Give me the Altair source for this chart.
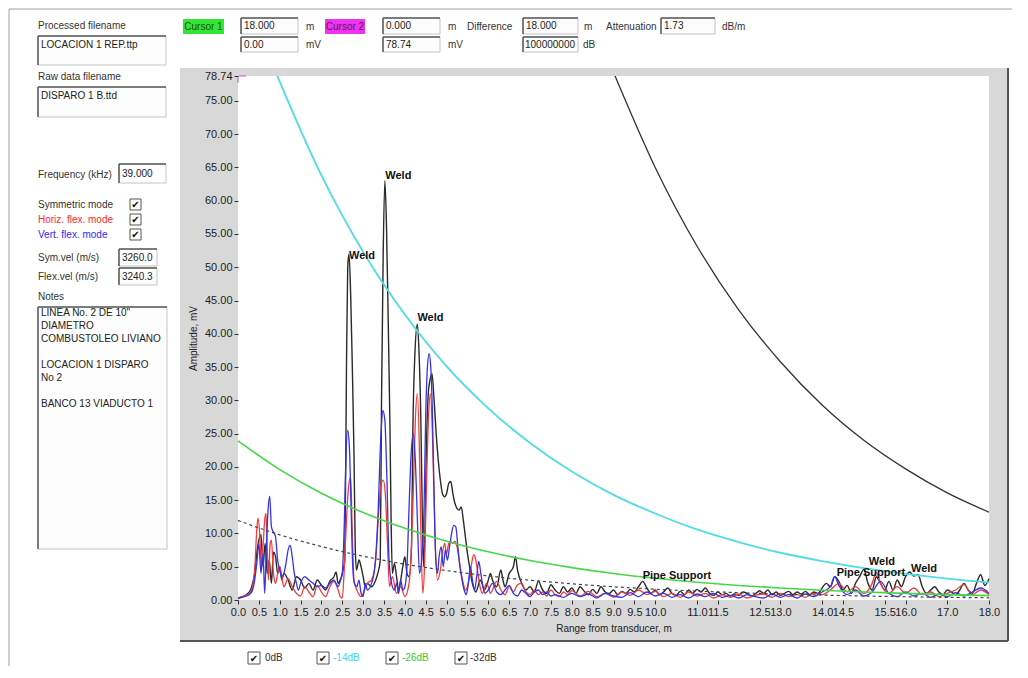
import altair as alt
import pandas as pd

# ---------------- chart values ----------------
# Symmetric mode trace (black), (range m, amplitude mV)
sym_pts = [
    (0.0, 0.3), (0.1, 0.5), (0.2, 0.8), (0.3, 1.5), (0.35, 2.5), (0.4, 4.0), (0.45, 7.0), (0.5, 9.0),
    (0.55, 9.8), (0.6, 5.0), (0.65, 8.5), (0.7, 4.0), (0.75, 6.0), (0.8, 2.5), (0.85, 7.2), (0.9, 6.5),
    (0.95, 4.0), (1.0, 5.0), (1.05, 3.0), (1.1, 4.0), (1.2, 3.0), (1.3, 1.5), (1.4, 3.5), (1.5, 3.0),
    (1.6, 1.8), (1.7, 2.5), (1.8, 1.5), (1.9, 3.0), (2.0, 2.2), (2.1, 1.5), (2.2, 2.8), (2.3, 3.5),
    (2.35, 4.2), (2.4, 2.5), (2.45, 3.0), (2.5, 4.0), (2.56, 6.0), (2.6, 35.0), (2.63, 50.0), (2.66, 52.0),
    (2.7, 46.0), (2.74, 35.0), (2.78, 22.0), (2.81, 8.0), (2.84, 4.5), (2.9, 6.0), (2.95, 5.0), (3.0, 3.5),
    (3.05, 2.0), (3.1, 2.5), (3.2, 2.0), (3.3, 3.0), (3.35, 4.0), (3.41, 6.0), (3.44, 30.0), (3.48, 52.0),
    (3.52, 63.0), (3.56, 56.0), (3.6, 42.0), (3.64, 27.0), (3.67, 12.0), (3.7, 4.0), (3.75, 5.5), (3.8, 3.5),
    (3.85, 1.5), (3.9, 3.0), (3.95, 5.0), (4.0, 6.5), (4.05, 4.0), (4.1, 3.5), (4.16, 8.0), (4.19, 25.0),
    (4.24, 37.0), (4.3, 41.5), (4.34, 37.0), (4.38, 28.0), (4.42, 12.0), (4.45, 5.0), (4.48, 10.0), (4.52, 24.0),
    (4.56, 31.0), (4.6, 33.0), (4.65, 34.0), (4.7, 30.0), (4.75, 25.0), (4.8, 21.0), (4.85, 18.0), (4.9, 16.0),
    (4.95, 15.5), (5.0, 16.0), (5.05, 17.5), (5.1, 17.8), (5.15, 16.0), (5.2, 14.5), (5.3, 13.5), (5.35, 14.0),
    (5.4, 12.0), (5.45, 9.5), (5.5, 7.0), (5.55, 5.0), (5.6, 3.0), (5.65, 1.8), (5.7, 1.2), (5.75, 2.0),
    (5.8, 3.0), (5.85, 2.5), (5.9, 1.5), (5.95, 2.0), (6.0, 3.0), (6.05, 4.0), (6.1, 3.0), (6.2, 2.0),
    (6.3, 4.5), (6.35, 3.0), (6.4, 2.0), (6.5, 4.0), (6.6, 5.0), (6.65, 6.5), (6.7, 4.5), (6.8, 2.5),
    (6.9, 1.5), (7.0, 2.0), (7.1, 1.2), (7.2, 2.8), (7.3, 1.5), (7.4, 1.0), (7.5, 2.3), (7.6, 1.5),
    (7.7, 1.0), (7.8, 2.0), (7.9, 1.2), (8.0, 1.8), (8.1, 1.0), (8.2, 2.0), (8.3, 1.3), (8.4, 0.8),
    (8.5, 1.6), (8.6, 1.0), (8.7, 2.0), (8.8, 1.2), (8.9, 1.0), (9.0, 1.5), (9.1, 0.8), (9.2, 1.3),
    (9.3, 1.0), (9.4, 1.6), (9.5, 1.2), (9.6, 2.0), (9.7, 2.8), (9.8, 1.8), (9.9, 1.0), (10.0, 1.5),
    (10.1, 0.8), (10.2, 1.2), (10.3, 1.8), (10.4, 1.0), (10.5, 0.7), (10.6, 1.3), (10.7, 0.8), (10.8, 1.5),
    (10.9, 1.0), (11.0, 1.6), (11.1, 1.2), (11.2, 1.8), (11.3, 1.0), (11.4, 0.7), (11.5, 1.2), (11.6, 0.8),
    (11.7, 1.0), (11.8, 0.6), (11.9, 0.9), (12.0, 0.7), (12.1, 1.2), (12.2, 1.0), (12.3, 0.6), (12.4, 0.9),
    (12.5, 1.4), (12.6, 1.0), (12.7, 1.5), (12.8, 0.8), (12.9, 1.2), (13.0, 0.7), (13.1, 1.0), (13.2, 1.3),
    (13.3, 0.8), (13.4, 1.2), (13.5, 0.9), (13.6, 1.3), (13.7, 0.8), (13.8, 1.2), (13.9, 1.0), (14.0, 1.8),
    (14.1, 2.5), (14.2, 2.0), (14.3, 3.5), (14.4, 2.8), (14.5, 1.5), (14.6, 2.2), (14.7, 1.0), (14.8, 2.5),
    (14.9, 3.5), (15.0, 4.6), (15.1, 2.5), (15.2, 1.5), (15.3, 3.5), (15.4, 2.5), (15.5, 1.5), (15.6, 2.8),
    (15.7, 1.5), (15.8, 3.0), (15.9, 2.0), (16.0, 3.5), (16.1, 4.2), (16.2, 3.6), (16.3, 3.8), (16.4, 2.0),
    (16.5, 1.0), (16.6, 1.5), (16.7, 2.0), (16.8, 1.2), (16.9, 0.8), (17.0, 1.5), (17.1, 1.2), (17.2, 0.8),
    (17.3, 1.5), (17.4, 2.5), (17.5, 1.5), (17.6, 1.0), (17.7, 2.5), (17.8, 3.8), (17.9, 2.2), (18.0, 3.2),
]

# Horizontal flexural mode trace (red)
horiz_pts = [
    (0.0, 0.3), (0.1, 0.5), (0.2, 0.7), (0.3, 1.2), (0.35, 2.0), (0.4, 4.5), (0.45, 10.5), (0.48, 12.3),
    (0.52, 10.0), (0.56, 5.0), (0.6, 8.0), (0.64, 12.0), (0.67, 13.0), (0.7, 8.0), (0.73, 3.0), (0.77, 8.5),
    (0.8, 9.0), (0.85, 4.0), (0.9, 2.5), (0.95, 4.0), (1.0, 5.0), (1.05, 3.5), (1.1, 2.0), (1.2, 3.2),
    (1.3, 2.0), (1.4, 1.0), (1.5, 0.6), (1.6, 2.0), (1.7, 1.2), (1.8, 0.5), (1.9, 2.2), (2.0, 1.2),
    (2.1, 0.5), (2.2, 2.0), (2.3, 2.8), (2.4, 1.5), (2.45, 0.5), (2.5, 0.3), (2.55, 5.0), (2.6, 12.0),
    (2.65, 17.0), (2.7, 18.5), (2.74, 10.0), (2.78, 3.0), (2.85, 1.5), (2.95, 0.5), (3.0, 1.0), (3.1, 2.5),
    (3.2, 3.0), (3.3, 6.0), (3.36, 12.0), (3.42, 17.0), (3.48, 18.0), (3.53, 16.0), (3.58, 9.0), (3.63, 2.0),
    (3.7, 3.5), (3.8, 1.0), (3.9, 2.0), (4.0, 0.5), (4.1, 2.5), (4.15, 7.0), (4.2, 16.0), (4.25, 27.0),
    (4.3, 31.0), (4.35, 22.0), (4.39, 8.0), (4.43, 1.0), (4.47, 5.0), (4.52, 18.0), (4.57, 28.0), (4.61, 31.0),
    (4.66, 25.0), (4.72, 10.0), (4.78, 3.0), (4.85, 4.5), (4.9, 7.0), (4.95, 8.5), (5.0, 7.0), (5.05, 8.5),
    (5.1, 8.8), (5.15, 8.5), (5.2, 8.8), (5.25, 8.0), (5.3, 6.0), (5.35, 4.0), (5.4, 2.5), (5.45, 1.5),
    (5.5, 2.0), (5.55, 3.5), (5.6, 5.5), (5.65, 6.8), (5.7, 6.0), (5.75, 4.0), (5.8, 2.0), (5.85, 1.0),
    (5.9, 1.5), (5.95, 2.5), (6.0, 2.0), (6.05, 1.0), (6.1, 1.5), (6.2, 2.8), (6.3, 1.5), (6.4, 0.8),
    (6.5, 2.0), (6.6, 1.2), (6.7, 2.3), (6.8, 2.5), (6.9, 1.2), (7.0, 0.8), (7.1, 1.5), (7.2, 0.8),
    (7.3, 1.2), (7.4, 0.6), (7.5, 1.5), (7.6, 0.8), (7.7, 0.5), (7.8, 1.2), (7.9, 0.8), (8.0, 1.4),
    (8.2, 0.6), (8.4, 1.3), (8.6, 0.5), (8.8, 1.0), (9.0, 0.4), (9.2, 1.2), (9.4, 0.7), (9.6, 1.5),
    (9.8, 0.8), (10.0, 1.3), (10.2, 0.5), (10.4, 1.0), (10.6, 0.4), (10.8, 1.2), (11.0, 0.6), (11.2, 1.0),
    (11.4, 0.3), (11.6, 0.8), (11.8, 0.4), (12.0, 0.9), (12.2, 0.3), (12.4, 0.7), (12.6, 0.9), (12.8, 0.4),
    (13.0, 1.0), (13.2, 0.5), (13.4, 0.8), (13.6, 0.4), (13.8, 1.0), (14.0, 0.8), (14.2, 1.5), (14.4, 2.5),
    (14.6, 1.2), (14.8, 2.0), (15.0, 1.0), (15.2, 2.5), (15.3, 4.2), (15.4, 2.5), (15.6, 1.0), (15.8, 2.0),
    (16.0, 1.0), (16.2, 1.8), (16.4, 0.8), (16.6, 1.2), (16.8, 0.5), (17.0, 1.0), (17.2, 1.5), (17.4, 2.3),
    (17.6, 0.8), (17.8, 1.5), (18.0, 0.8),
]

# Vertical flexural mode trace (blue)
vert_pts = [
    (0.0, 0.2), (0.1, 0.4), (0.2, 0.6), (0.3, 1.0), (0.35, 1.5), (0.4, 3.0), (0.45, 5.5), (0.5, 8.5),
    (0.55, 4.0), (0.6, 7.0), (0.64, 1.0), (0.68, 8.0), (0.72, 13.5), (0.76, 15.6), (0.8, 11.0), (0.85, 10.2),
    (0.9, 9.5), (0.95, 6.0), (1.0, 4.5), (1.05, 3.5), (1.1, 4.0), (1.15, 5.5), (1.2, 7.5), (1.25, 8.2),
    (1.3, 6.5), (1.35, 4.0), (1.4, 2.5), (1.45, 1.5), (1.5, 2.5), (1.6, 3.5), (1.7, 3.0), (1.8, 2.5),
    (1.9, 2.0), (2.0, 2.2), (2.1, 1.8), (2.2, 2.5), (2.3, 3.0), (2.35, 2.5), (2.4, 2.0), (2.45, 2.8),
    (2.5, 4.0), (2.55, 12.0), (2.59, 22.0), (2.63, 25.5), (2.67, 23.0), (2.71, 14.0), (2.75, 5.0), (2.79, 2.5),
    (2.85, 2.0), (2.9, 3.0), (2.95, 1.0), (3.0, 0.5), (3.05, 2.5), (3.1, 1.5), (3.2, 2.5), (3.28, 5.0),
    (3.35, 12.0), (3.42, 24.0), (3.47, 28.5), (3.52, 27.0), (3.57, 18.0), (3.62, 6.0), (3.68, 2.5), (3.75, 1.5),
    (3.8, 2.5), (3.85, 1.0), (3.9, 3.0), (3.95, 1.5), (4.0, 2.0), (4.05, 5.0), (4.1, 14.0), (4.15, 22.0),
    (4.2, 25.0), (4.25, 21.0), (4.3, 12.0), (4.35, 4.0), (4.4, 6.0), (4.46, 14.0), (4.5, 28.0), (4.54, 35.0),
    (4.58, 37.0), (4.62, 35.0), (4.66, 28.0), (4.7, 16.0), (4.74, 6.0), (4.78, 4.0), (4.82, 6.5), (4.87, 8.0),
    (4.92, 5.0), (4.97, 7.5), (5.02, 6.0), (5.07, 8.0), (5.12, 10.0), (5.17, 11.2), (5.22, 11.0), (5.27, 8.0),
    (5.32, 5.0), (5.37, 3.0), (5.42, 1.5), (5.47, 0.8), (5.52, 2.5), (5.57, 5.0), (5.62, 3.0), (5.67, 1.5),
    (5.72, 3.5), (5.77, 5.8), (5.82, 4.0), (5.87, 2.0), (5.92, 1.0), (6.0, 1.5), (6.1, 2.5), (6.2, 1.2),
    (6.3, 0.8), (6.4, 1.5), (6.5, 2.2), (6.6, 1.0), (6.7, 0.6), (6.8, 1.5), (6.9, 1.0), (7.0, 0.5),
    (7.1, 1.2), (7.2, 1.5), (7.3, 0.8), (7.4, 1.2), (7.5, 0.6), (7.6, 0.8), (7.8, 0.4), (8.0, 1.0),
    (8.2, 0.5), (8.4, 0.9), (8.6, 0.3), (8.8, 1.0), (9.0, 0.6), (9.2, 0.4), (9.4, 1.1), (9.6, 0.5),
    (9.8, 1.2), (10.0, 0.6), (10.2, 1.0), (10.4, 0.4), (10.6, 0.8), (10.8, 0.3), (11.0, 0.9), (11.2, 0.5),
    (11.4, 1.0), (11.6, 0.4), (11.8, 0.7), (12.0, 0.3), (12.2, 0.8), (12.4, 0.5), (12.6, 0.3), (12.8, 0.9),
    (13.0, 0.4), (13.2, 0.8), (13.4, 0.3), (13.6, 0.9), (13.8, 0.5), (14.0, 1.2), (14.2, 2.0), (14.3, 3.5),
    (14.4, 2.2), (14.6, 0.8), (14.8, 1.5), (15.0, 0.6), (15.2, 1.2), (15.4, 2.8), (15.6, 1.0), (15.8, 0.5),
    (16.0, 1.2), (16.2, 0.6), (16.4, 1.0), (16.6, 0.4), (16.8, 0.9), (17.0, 0.5), (17.2, 1.1), (17.4, 0.6),
    (17.6, 1.2), (17.8, 1.8), (18.0, 1.0),
]

# Distance-amplitude curves (1.73 dB/m), read at whole metres
dac_0db = [(9.0, 79.3), (10, 65.0), (11, 53.2), (12, 43.6), (13, 35.8), (14, 29.3), (15, 24.0),
           (16, 19.7), (17, 16.1), (18, 13.2)]
dac_14db = [(0.9, 79.4), (1, 77.9), (2, 63.8), (3, 52.3), (4, 42.9), (5, 35.1), (6, 28.8), (7, 23.6),
            (8, 19.3), (9, 15.8), (10, 13.0), (11, 10.6), (12, 8.7), (13, 7.1), (14, 5.85), (15, 4.8),
            (16, 3.93), (17, 3.22), (18, 2.64)]
dac_26db = [(0, 23.9), (1, 19.6), (2, 16.05), (3, 13.15), (4, 10.78), (5, 8.83), (6, 7.24), (7, 5.93),
            (8, 4.86), (9, 3.98), (10, 3.26), (11, 2.67), (12, 2.19), (13, 1.80), (14, 1.47), (15, 1.21),
            (16, 0.99), (17, 0.81), (18, 0.66)]
dac_32db = [(0, 11.95), (1, 9.79), (2, 8.03), (3, 6.58), (4, 5.39), (5, 4.42), (6, 3.62), (7, 2.97),
            (8, 2.43), (9, 1.99), (10, 1.63), (11, 1.34), (12, 1.10), (13, 0.90), (14, 0.74), (15, 0.60),
            (16, 0.49), (17, 0.40), (18, 0.33)]

# Feature labels
feature_text = ["Weld", "Weld", "Weld", "Pipe Support", "Pipe Support", "Weld", "Weld"]
feature_x = [2.66, 3.53, 4.30, 9.70, 14.35, 15.12, 16.13]
feature_y = [51.2, 63.3, 41.9, 3.2, 3.6, 5.3, 4.2]

# Cursor 2 position
cursor2_x = [0.0]
cursor2_y = [78.74]

x_tick_values = [0.0, 0.5, 1.0, 1.5, 2.0, 2.5, 3.0, 3.5, 4.0, 4.5, 5.0, 5.5, 6.0, 6.5, 7.0, 7.5, 8.0,
                 8.5, 9.0, 9.5, 10.0, 11.0, 11.5, 12.5, 13.0, 14.0, 14.5, 15.5, 16.0, 17.0, 18.0]
y_tick_values = [0, 5, 10, 15, 20, 25, 30, 35, 40, 45, 50, 55, 60, 65, 70, 75, 78.74]

# Panel texts
notes_lines = ['LINEA No. 2 DE 10"', "DIAMETRO", "COMBUSTOLEO LIVIANO", "LOCACION 1 DISPARO", "No 2",
               "BANCO 13 VIADUCTO 1"]

# ---------------- layout ----------------
OX, OY = 238, 76          # page position of the plot origin
W, H = 751, 524
FONT = "Liberation Sans"

def pts_df(pts):
    return pd.DataFrame(pts, columns=["x", "y"])

# rectangles in page pixels: x1, y1, x2, y2, fill, stroke
textboxes = [(38, 36, 166, 65), (38, 87, 166, 117), (241, 18, 298, 34), (241, 37, 298, 52),
             (383, 18, 440, 34), (383, 37, 440, 52), (523, 18, 578, 34), (523, 37, 578, 52),
             (661, 18, 715, 34), (119, 164, 166, 183), (119, 249, 157, 266), (119, 268, 157, 285),
             (38, 307, 167, 549)]
checkboxes = [(130, 199, 141, 210), (130, 214, 141, 225), (130, 229, 141, 240),
              (248, 652, 260, 664), (317, 652, 329, 664), (386, 652, 398, 664), (455, 652, 467, 664)]

rect_rows = [(180, 68, 1008, 641, "#d8d8d8", "transparent"),
             (OX, OY, OX + W, OY + H, "#ffffff", "transparent"),
             (183, 19, 224, 34, "#33e633", "transparent"),
             (325, 19, 365, 34, "#ee33ee", "transparent")]
rect_rows += [(a, b, c, d, "#fdfdfd", "#c4c4c4") for a, b, c, d in textboxes]
rect_rows += [(a, b, c, d, "#ffffff", "#555555") for a, b, c, d in checkboxes]
rect_df = pd.DataFrame(rect_rows, columns=["x1", "y1", "x2", "y2", "fill", "stroke"])

rule_rows = [(9, 9, 1012, 9, "#a0a0a0", 1), (9, 9, 9, 668, "#a0a0a0", 1),
             (180, 641, 1008, 641, "#555555", 2), (1008, 68, 1008, 641, "#555555", 2)]
for a, b, c, d in textboxes:
    rule_rows.append((a, b, c, b, "#5a5a5a", 1.5))
    rule_rows.append((a, b, a, d, "#5a5a5a", 1.5))
rule_df = pd.DataFrame(rule_rows, columns=["x1", "y1", "x2", "y2", "color", "w"])

text_rows = [
    (38, 26, "Processed filename", "#333333"), (41, 45, "LOCACION 1 REP.ttp", "#222222"),
    (38, 77, "Raw data filename", "#333333"), (41, 96, "DISPARO 1 B.ttd", "#222222"),
    (244, 26, "18.000", "#222222"), (306, 27, "m", "#333333"),
    (244, 45, "0.00", "#222222"), (306, 45, "mV", "#333333"),
    (386, 26, "0.000", "#222222"), (448, 27, "m", "#333333"),
    (386, 45, "78.74", "#222222"), (448, 45, "mV", "#333333"),
    (467, 27, "Difference", "#333333"), (526, 26, "18.000", "#222222"), (584, 27, "m", "#333333"),
    (525, 45, "100000000", "#222222"), (583, 45, "dB", "#333333"),
    (606, 27, "Attenuation", "#333333"), (664, 26, "1.73", "#222222"), (722, 27, "dB/m", "#333333"),
    (38, 175, "Frequency (kHz)", "#333333"), (122, 174, "39.000", "#222222"),
    (38, 205, "Symmetric mode", "#333333"), (38, 220, "Horiz. flex. mode", "#ff2a2a"),
    (38, 235, "Vert. flex. mode", "#2a2aff"),
    (38, 258, "Sym.vel (m/s)", "#333333"), (122, 258, "3260.0", "#222222"),
    (38, 277, "Flex.vel (m/s)", "#333333"), (122, 277, "3240.3", "#222222"),
    (38, 297, "Notes", "#333333"),
    (265, 658, "0dB", "#333333"), (333, 658, "-14dB", "#44d8e0"),
    (402, 658, "-26dB", "#33cc33"), (470, 658, "-32dB", "#333333"),
]
for yy, line in zip([313, 326, 339, 365, 378, 404], notes_lines):
    text_rows.append((41, yy, line, "#222222"))
text_df = pd.DataFrame(text_rows, columns=["x", "y", "text", "color"])

center_rows = [(203.5, 27, "Cursor 1", "#145214"), (345, 27, "Cursor 2", "#6a146a")]
center_df = pd.DataFrame(center_rows, columns=["x", "y", "text", "color"])
check_df = pd.DataFrame([((a + c) / 2, (b + d) / 2 + 0.5, "\u2714", "#111111") for a, b, c, d in checkboxes],
                        columns=["x", "y", "text", "color"])

for df in (rect_df, rule_df):
    df["x1"] -= OX; df["x2"] -= OX; df["y1"] -= OY; df["y2"] -= OY
for df in (text_df, center_df, check_df):
    df["x"] -= OX; df["y"] -= OY

# ---------------- layers ----------------
pxX = lambda f: alt.X(f, scale=None, axis=None)
pxY = lambda f: alt.Y(f, scale=None, axis=None)

rect_layer = alt.Chart(rect_df).mark_rect(strokeWidth=1).encode(
    x=pxX("x1:Q"), x2="x2:Q", y=pxY("y1:Q"), y2="y2:Q",
    fill=alt.Fill("fill:N", scale=None), stroke=alt.Stroke("stroke:N", scale=None))

rule_layer = alt.Chart(rule_df).mark_rule().encode(
    x=pxX("x1:Q"), x2="x2:Q", y=pxY("y1:Q"), y2="y2:Q",
    color=alt.Color("color:N", scale=None), strokeWidth=alt.StrokeWidth("w:Q", scale=None))

text_layer = alt.Chart(text_df).mark_text(align="left", baseline="middle", font=FONT, fontSize=10).encode(
    x=pxX("x:Q"), y=pxY("y:Q"), text="text:N", color=alt.Color("color:N", scale=None))
center_layer = alt.Chart(center_df).mark_text(align="center", baseline="middle", font=FONT, fontSize=10).encode(
    x=pxX("x:Q"), y=pxY("y:Q"), text="text:N", color=alt.Color("color:N", scale=None))
check_layer = alt.Chart(check_df).mark_text(align="center", baseline="middle", font="DejaVu Sans",
                                            fontSize=10).encode(
    x=pxX("x:Q"), y=pxY("y:Q"), text="text:N", color=alt.Color("color:N", scale=None))

xscale = alt.Scale(domain=[0, 18], nice=False, zero=False)
yscale = alt.Scale(domain=[0, 78.74], nice=False, zero=False)
xaxis = alt.Axis(values=x_tick_values, format=".1f", labelOverlap=False, labelFlush=False,
                 labelFont=FONT, labelFontSize=11, labelColor="#222222", labelPadding=2,
                 tickSize=4, tickColor="#333333", domain=False, grid=False,
                 title="Range from transducer, m", titleFont=FONT, titleFontSize=10,
                 titleFontWeight="normal", titleColor="#222222", titlePadding=6, zindex=1)
yaxis = alt.Axis(values=y_tick_values, format=".2f", labelOverlap=False, labelFlush=False,
                 labelFont=FONT, labelFontSize=11, labelColor="#222222", labelPadding=2,
                 tickSize=4, tickColor="#333333", domain=False, grid=False,
                 title="Amplitude, mV", titleFont=FONT, titleFontSize=10,
                 titleFontWeight="normal", titleColor="#222222", titlePadding=6, zindex=1)

def series(pts, color, width=1.3, dash=None, clip=False, interp="monotone"):
    kw = dict(color=color, strokeWidth=width, interpolate=interp, clip=clip)
    if dash:
        kw["strokeDash"] = dash
    return alt.Chart(pts_df(pts)).mark_line(**kw).encode(
        x=alt.X("x:Q", scale=xscale, axis=xaxis),
        y=alt.Y("y:Q", scale=yscale, axis=yaxis))

sym_layer = series(sym_pts, "#2a2a2a", 1.4)
horiz_layer = series(horiz_pts, "#f03c3c", 1.3)
vert_layer = series(vert_pts, "#3434e6", 1.3)
d0_layer = series(dac_0db, "#333333", 1.3, clip=True)
d14_layer = series(dac_14db, "#4fdde4", 1.8, clip=True)
d26_layer = series(dac_26db, "#45d845", 1.6)
d32_layer = series(dac_32db, "#444444", 1.2, dash=[3, 3])

feat_df = pd.DataFrame({"x": feature_x, "y": feature_y, "label": feature_text})
feat_layer = alt.Chart(feat_df).mark_text(align="left", baseline="alphabetic", font=FONT, fontSize=11,
                                          fontWeight="bold", color="#111111").encode(
    x=alt.X("x:Q", scale=xscale, axis=xaxis), y=alt.Y("y:Q", scale=yscale, axis=yaxis), text="label:N")

cur_df = pd.DataFrame({"x": cursor2_x, "y": cursor2_y})
cur_layer = alt.Chart(cur_df).mark_point(shape="M0.3,0H2M0,0V1.7", size=64, filled=False,
                                         color="#cc55cc", strokeWidth=1.5).encode(
    x=alt.X("x:Q", scale=xscale, axis=xaxis), y=alt.Y("y:Q", scale=yscale, axis=yaxis))

chart = alt.layer(
    rect_layer, rule_layer, text_layer, center_layer, check_layer,
    sym_layer, horiz_layer, vert_layer,
    d0_layer, d14_layer, d26_layer, d32_layer,
    feat_layer, cur_layer,
).properties(
    width=W, height=H,
    padding={"left": OX - 8, "top": OY - 8, "right": 1012 - OX - W + 8, "bottom": 66},
    autosize=alt.AutoSizeParams(type="none"),
    background="white",
).configure_view(stroke=None)

chart.save("out.html", embed_options={"renderer": "svg", "actions": False})
